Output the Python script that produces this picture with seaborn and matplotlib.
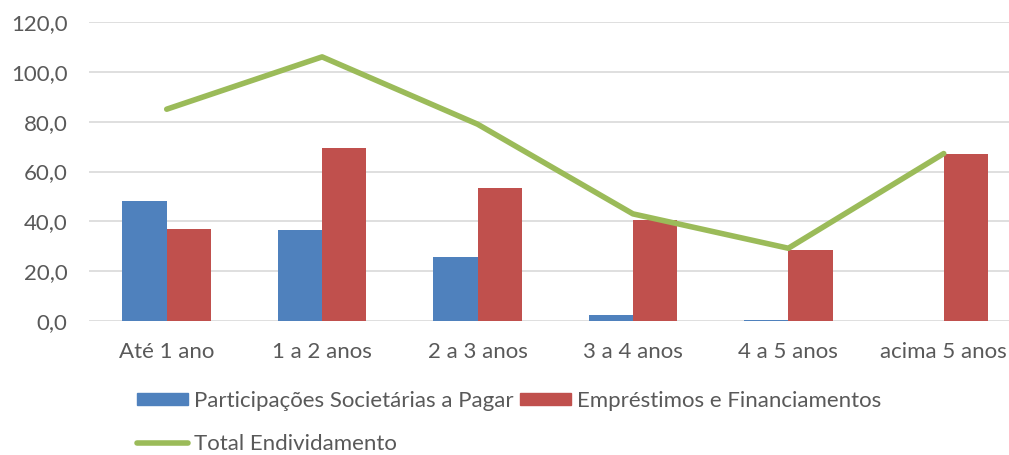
import matplotlib
matplotlib.use("Agg")
import matplotlib.pyplot as plt
import seaborn as sns
import pandas as pd
from matplotlib.patches import Patch
from matplotlib.lines import Line2D

categories = ["Até 1 ano", "1 a 2 anos", "2 a 3 anos", "3 a 4 anos", "4 a 5 anos", "acima 5 anos"]
participacoes = [48.0, 36.5, 25.5, 2.4, 0.6, 0.0]
emprestimos = [37.0, 69.5, 53.5, 40.6, 28.6, 67.2]
total = [85.0, 106.0, 79.0, 43.0, 29.2, 67.2]
series_names = ["Participações Societárias a Pagar", "Empréstimos e Financiamentos"]
line_name = "Total Endividamento"
yticks = [0, 20, 40, 60, 80, 100, 120]

colors = {"Participações Societárias a Pagar": "#4F81BD", "Empréstimos e Financiamentos": "#C0504D"}
green = "#9BBB59"

sns.set_theme(style="white")
plt.rcParams["font.family"] = ["Lato", "DejaVu Sans"]

df = pd.DataFrame({
    "cat": categories * 2,
    "serie": [series_names[0]] * 6 + [series_names[1]] * 6,
    "valor": participacoes + emprestimos,
})
dl = pd.DataFrame({"cat": categories, "valor": total})

W, H = 1009, 455
fig = plt.figure(figsize=(W / 100, H / 100), dpi=100)
ax = fig.add_axes([89 / W, 1 - 321 / H, (W - 89) / W, (321 - 22) / H])

sns.barplot(data=df, x="cat", y="valor", hue="serie", order=categories,
            hue_order=series_names, palette=colors, width=0.57, gap=0,
            saturation=1, ax=ax, legend=False, zorder=2, linewidth=0)
sns.lineplot(data=dl, x="cat", y="valor", color=green, linewidth=4.0,
             ax=ax, legend=False, zorder=3, solid_capstyle="round")

ax.set_ylim(0, 120)
ax.set_xlim(-0.5, 5.42)
ax.set_yticks(yticks)
ax.set_yticklabels([f"{v:.1f}".replace(".", ",") for v in yticks])
ax.set_xlabel("")
ax.set_ylabel("")
ax.grid(axis="y", color="#D9D9D9", linewidth=1.2, zorder=0)
ax.set_axisbelow(True)
for s in ax.spines.values():
    s.set_visible(False)
ax.tick_params(axis="both", length=0, labelsize=16, colors="#595959")
ax.tick_params(axis="y", pad=15.5)
ax.tick_params(axis="x", pad=15)

handles = [Patch(color=colors[series_names[0]]), Line2D([], [], color=green, linewidth=4.0),
           Patch(color=colors[series_names[1]])]
labels = [series_names[0], line_name, series_names[1]]
leg = fig.legend(handles, labels, ncol=2, loc="upper left",
                 bbox_to_anchor=(137 / W, 1 - 391 / H), frameon=False,
                 borderaxespad=0, borderpad=0,
                 fontsize=16, handlelength=2.3, handleheight=0.45,
                 handletextpad=0.25, columnspacing=0.3, labelspacing=1.05)
for t in leg.get_texts():
    t.set_color("#595959")

fig.savefig("out.png", dpi=100)
